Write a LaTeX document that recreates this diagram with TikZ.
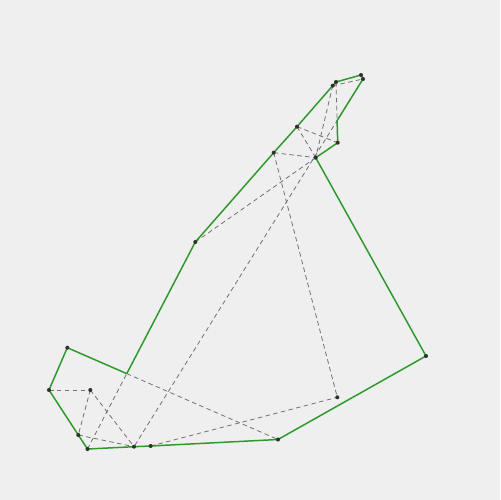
\documentclass[tikz,border=0pt]{standalone}
\usetikzlibrary{calc}
\definecolor{bg}{HTML}{EFEFEF}
\definecolor{edgegreen}{HTML}{2E9A2E}
\definecolor{diag}{HTML}{707070}
\definecolor{dotc}{HTML}{303030}
\tikzset{
  outline/.style={draw=edgegreen, line width=0.85pt, line join=round},
  diagonal/.style={draw=diag, line width=0.45pt, dash pattern=on 2.6pt off 1.9pt},
  vdot/.style={circle, fill=dotc, inner sep=0pt, minimum size=2.3pt},
}
\begin{document}
\begin{tikzpicture}[x=0.02cm, y=-0.02cm]
\fill[bg] (0,0) rectangle (500,500);
\useasboundingbox (0,0) rectangle (500,500);
% vertices
\coordinate (p1) at (332.7,85.7);
\coordinate (p2) at (336,82);
\coordinate (p3) at (361,75);
\coordinate (p4) at (363,79);
\coordinate (p5) at (337.7,142.7);
\coordinate (p6) at (315.7,157.7);
\coordinate (p7) at (426,356);
\coordinate (p8) at (278,439.5);
\coordinate (p9) at (150.7,446);
\coordinate (p10) at (134,446.7);
\coordinate (p11) at (87.5,449);
\coordinate (p12) at (49,390);
\coordinate (p13) at (67.3,347.7);
\coordinate (p14) at (195.3,242);
\coordinate (q1) at (297,126.7);
\coordinate (q2) at (273.7,152.7);
\coordinate (q3) at (337.3,397.3);
\coordinate (q4) at (90.3,390);
\coordinate (q5) at (78.3,435);
\coordinate (b1) at (intersection of p2--p5 and p4--p10);
\coordinate (b2) at (intersection of p13--p8 and p11--p14);
% diagonals
\draw[diagonal] (p1) -- (p4);
\draw[diagonal] (p2) -- (p5);
\draw[diagonal] (p1) -- (p6);
\draw[diagonal] (p4) -- (p10);
\draw[diagonal] (q1) -- (p6);
\draw[diagonal] (q1) -- (p5);
\draw[diagonal] (q2) -- (p6);
\draw[diagonal] (q2) -- (q3);
\draw[diagonal] (p14) -- (p6);
\draw[diagonal] (b2) -- (p8);
\draw[diagonal] (p11) -- (b2);
\draw[diagonal] (p9) -- (q3);
\draw[diagonal] (p12) -- (q4);
\draw[diagonal] (q4) -- (q5);
\draw[diagonal] (q4) -- (p10);
\draw[diagonal] (q5) -- (p10);
% outline
\draw[outline] (p1) -- (p2) -- (p3) -- (p4) -- (b1) -- (p5) -- (p6) -- (p7) -- (p8) -- (p9) -- (p10) -- (p11) -- (q5) -- (p12) -- (p13) -- (b2) -- (p14) -- (q2) -- (q1) -- cycle;
% dots
\foreach \n in {p1,p2,p3,p4,p5,p6,p7,p8,p9,p10,p11,p12,p13,p14,q1,q2,q3,q4,q5}
  \node[vdot] (d\n) at (\n) {};
\end{tikzpicture}
\end{document}
